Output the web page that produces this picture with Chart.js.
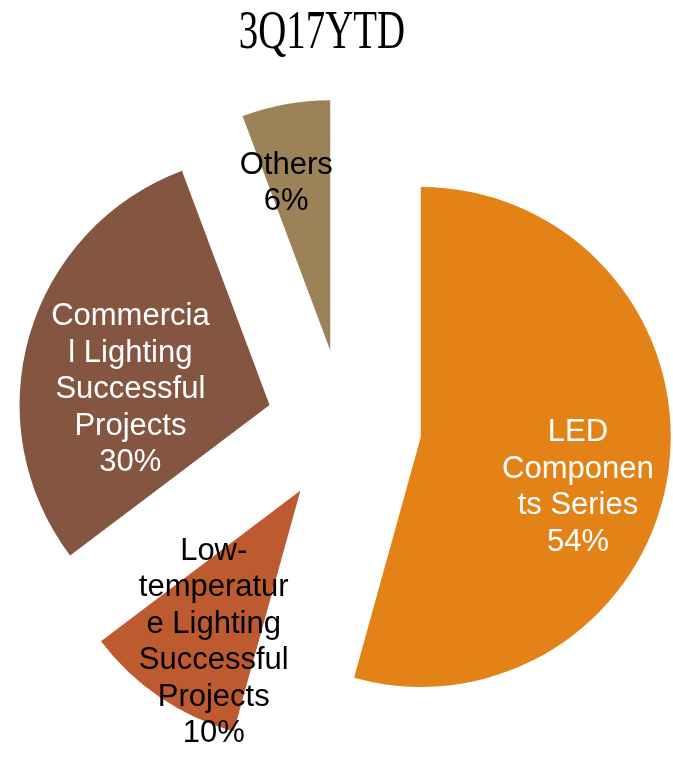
<!DOCTYPE html>
<html lang="en">
<head>
<meta charset="UTF-8" />
<title>3Q17YTD</title>
<script src="https://cdn.jsdelivr.net/npm/chart.js"></script>
<style>
  html, body { margin: 0; padding: 0; background: #fff; }
  canvas { display: block; }
</style>
</head>
<body>
<canvas id="pie" width="673" height="758"></canvas>
<script>
// chart data
const chartTitle = "3Q17YTD";
const categories = [
  "LED Components Series",
  "Low-temperature Lighting Successful Projects",
  "Commercial Lighting Successful Projects",
  "Others",
];
// shares (labels show them rounded)
const shares = [54.3, 10.4, 29.6, 5.7];
// label text as wrapped in the original
const labelLines = [
  ["LED", "Componen", "ts Series"],
  ["Low-", "temperatur", "e Lighting", "Successful", "Projects"],
  ["Commercia", "l Lighting", "Successful", "Projects"],
  ["Others"],
];

// styles
const sliceColors = ["#E38217", "#BE5A2F", "#845541", "#9B8258"];
const labelColors = ["#ffffff", "#000000", "#ffffff", "#000000"];
const labelRadius = [0.66, 0.70, 0.56, 0.69];
const labelTurn = [10, -4.5, -10, -4.5];
const RADIUS = 250;
const OFFSET = 310; // chart.js moves each arc by offset / 4

// chart.js also grows and narrows offset arcs; undo that so the
// exploded slices keep the same radius and their true angles
const evenSlices = {
  id: "evenSlices",
  afterDatasetUpdate(chart, args) {
    const shift = OFFSET / 4;
    args.meta.data.forEach((arc) => {
      const fix = 1 - Math.sin(Math.min(Math.PI, arc.circumference));
      const grow = shift * fix;
      arc.outerRadius = RADIUS - grow;
      const trim = grow / (2 * Math.PI * RADIUS);
      arc.startAngle -= trim;
      arc.endAngle += trim;
    });
  },
};

const sliceLabels = {
  id: "sliceLabels",
  afterDatasetsDraw(chart) {
    const ctx = chart.ctx;
    const shift = OFFSET / 4;
    const lineH = 36.5;
    ctx.save();
    ctx.font = '31px "Liberation Sans", Arial, sans-serif';
    ctx.textAlign = "center";
    ctx.textBaseline = "middle";
    chart.getDatasetMeta(0).data.forEach((arc, i) => {
      const mid = (arc.startAngle + arc.endAngle) / 2;
      const ax = arc.x + Math.cos(mid) * shift;
      const ay = arc.y + Math.sin(mid) * shift;
      const a = mid + (labelTurn[i] * Math.PI) / 180;
      const r = RADIUS * labelRadius[i];
      const x = ax + Math.cos(a) * r;
      const y = ay + Math.sin(a) * r;
      const lines = [...labelLines[i], Math.round(shares[i]) + "%"];
      const top = y - ((lines.length - 1) * lineH) / 2;
      ctx.fillStyle = labelColors[i];
      lines.forEach((t, k) => ctx.fillText(t, x, top + k * lineH));
    });
    ctx.restore();
  },
};

// narrow serif title like the original
const narrowTitle = {
  id: "narrowTitle",
  afterDraw(chart) {
    const ctx = chart.ctx;
    ctx.save();
    ctx.translate(322, 48);
    ctx.scale(0.72, 1);
    ctx.font = '54px "Liberation Serif", "Times New Roman", serif';
    ctx.fillStyle = "#000";
    ctx.textAlign = "center";
    ctx.textBaseline = "alphabetic";
    ctx.fillText(chartTitle, 0, 0);
    ctx.restore();
  },
};

new Chart(document.getElementById("pie"), {
  type: "pie",
  data: {
    labels: categories,
    datasets: [
      {
        data: shares,
        backgroundColor: sliceColors,
        borderWidth: 0,
        offset: OFFSET,
        hoverOffset: OFFSET,
        radius: RADIUS,
        clip: false,
      },
    ],
  },
  options: {
    responsive: false,
    animation: false,
    events: [],
    layout: { padding: { left: 15, right: 0, top: 95, bottom: 0 } },
    plugins: {
      legend: { display: false },
      tooltip: { enabled: false },
      title: { display: false },
    },
  },
  plugins: [evenSlices, sliceLabels, narrowTitle],
});
</script>
</body>
</html>
